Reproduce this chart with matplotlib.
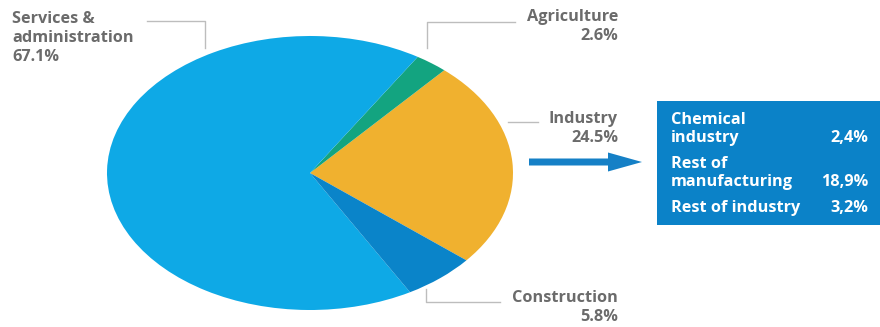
import matplotlib.pyplot as plt
from matplotlib.patches import FancyArrow, Rectangle

# sector shares, drawn counter-clockwise starting with industry
sectors = ['Industry', 'Agriculture', 'Services & administration', 'Construction']
shares = [24.5, 2.6, 67.1, 5.8]
colors = ['#f0b12f', '#13a480', '#0ea9e6', '#0a84c9']

# breakdown of industry
sub_names = [['Chemical', 'industry'], ['Rest of', 'manufacturing'], ['Rest of industry']]
sub_values = ['2,4%', '18,9%', '3,2%']

W, H = 880, 327
fig = plt.figure(figsize=(W / 100, H / 100), dpi=100)
plt.rcParams['font.family'] = ['Open Sans', 'DejaVu Sans']

# elliptical pie: axes box is wider than tall, aspect left on auto
cx, cy, rx, ry = 310, 173, 203, 137
ax = fig.add_axes([(cx - rx) / W, (H - cy - ry) / H, 2 * rx / W, 2 * ry / H])
start = 4.5 - shares[0] * 3.6 / 2
ax.pie(shares, colors=colors, startangle=start, counterclock=True,
       wedgeprops=dict(linewidth=0))
ax.set_aspect('auto')
ax.set_xlim(-1, 1)
ax.set_ylim(-1, 1)
ax.axis('off')

# overlay axes in pixel coordinates for labels, leaders, arrow and box
ov = fig.add_axes([0, 0, 1, 1])
ov.set_xlim(0, W)
ov.set_ylim(H, 0)
ov.axis('off')

grey = '#6b6b6b'
line_c = '#bdbdbd'
fs = 11.7
kw = dict(color=grey, fontsize=fs, fontweight='bold', va='baseline')


def label(x, y, lines, ha):
    for i, s in enumerate(lines):
        ov.text(x, y + 19 * i, s, ha=ha, **kw)


label(12, 23, ['Services &', 'administration',
               f'{shares[2]:.1f}%'], 'left')
ov.plot([147, 205, 205], [20.5, 20.5, 48], color=line_c, lw=1)

label(618, 21, ['Agriculture', f'{shares[1]:.1f}%'], 'right')
ov.plot([427, 427, 515], [48, 21.5, 21.5], color=line_c, lw=1)

label(618, 123, ['Industry', f'{shares[0]:.1f}%'], 'right')
ov.plot([508, 538], [122, 122], color=line_c, lw=1)

label(618, 302, ['Construction', f'{shares[3]:.1f}%'], 'right')
ov.plot([426, 426, 500], [289, 302, 302], color=line_c, lw=1)

ov.add_patch(FancyArrow(529, 162, 113, 0, width=7, head_width=19,
                        head_length=34, length_includes_head=True,
                        color='#1580c6', lw=0))

ov.add_patch(Rectangle((657, 101), 230, 124, color='#0b82c8', lw=0))
wkw = dict(color='white', fontsize=fs, fontweight='bold', va='baseline')
name_y = [124, 168, 212]
for lines, val, y in zip(sub_names, sub_values, name_y):
    for i, s in enumerate(lines):
        ov.text(671, y + 18 * i, s, ha='left', **wkw)
    ov.text(868, y + 18 * (len(lines) - 1), val, ha='right', **wkw)

fig.savefig('out.png', dpi=100)
